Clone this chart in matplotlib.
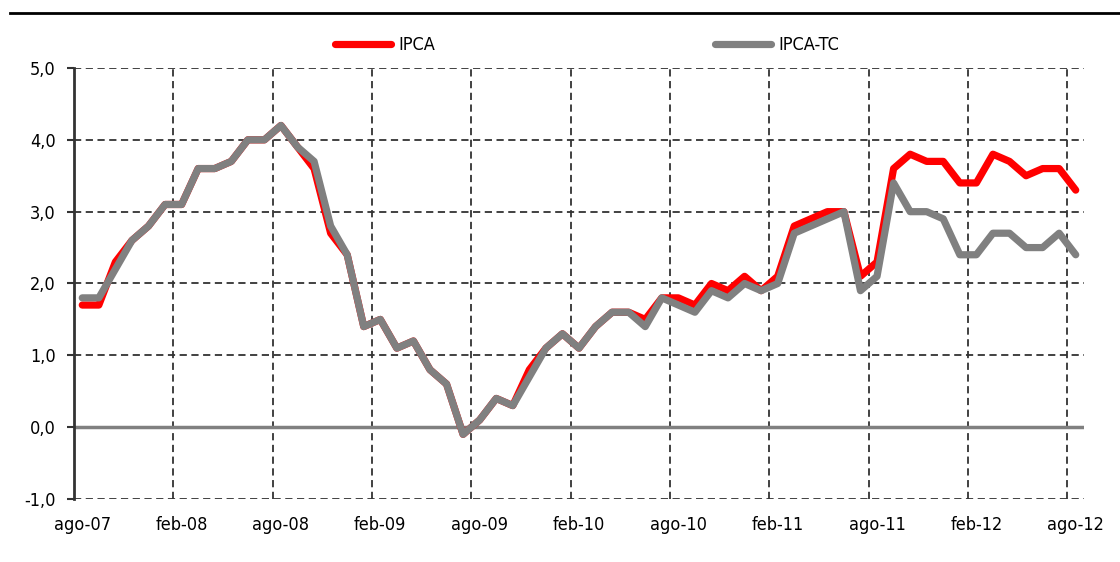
import matplotlib
matplotlib.use("Agg")
import matplotlib.pyplot as plt
from matplotlib.lines import Line2D
from matplotlib import font_manager

# Datos mensuales ago-07 .. ago-12
meses = ["ago-07", "sep-07", "oct-07", "nov-07", "dic-07", "ene-08", "feb-08", "mar-08", "abr-08", "may-08",
         "jun-08", "jul-08", "ago-08", "sep-08", "oct-08", "nov-08", "dic-08", "ene-09", "feb-09", "mar-09",
         "abr-09", "may-09", "jun-09", "jul-09", "ago-09", "sep-09", "oct-09", "nov-09", "dic-09", "ene-10",
         "feb-10", "mar-10", "abr-10", "may-10", "jun-10", "jul-10", "ago-10", "sep-10", "oct-10", "nov-10",
         "dic-10", "ene-11", "feb-11", "mar-11", "abr-11", "may-11", "jun-11", "jul-11", "ago-11", "sep-11",
         "oct-11", "nov-11", "dic-11", "ene-12", "feb-12", "mar-12", "abr-12", "may-12", "jun-12", "jul-12",
         "ago-12"]

ipca = [1.7, 1.7, 2.3, 2.6, 2.8, 3.1, 3.1, 3.6, 3.6, 3.7,
        4.0, 4.0, 4.2, 3.9, 3.6, 2.7, 2.4, 1.4, 1.5, 1.1,
        1.2, 0.8, 0.6, -0.1, 0.1, 0.4, 0.3, 0.8, 1.1, 1.3,
        1.1, 1.4, 1.6, 1.6, 1.5, 1.8, 1.8, 1.7, 2.0, 1.9,
        2.1, 1.9, 2.1, 2.8, 2.9, 3.0, 3.0, 2.1, 2.3, 3.6,
        3.8, 3.7, 3.7, 3.4, 3.4, 3.8, 3.7, 3.5, 3.6, 3.6,
        3.3]

ipca_tc = [1.8, 1.8, 2.2, 2.6, 2.8, 3.1, 3.1, 3.6, 3.6, 3.7,
           4.0, 4.0, 4.2, 3.9, 3.7, 2.8, 2.4, 1.4, 1.5, 1.1,
           1.2, 0.8, 0.6, -0.1, 0.1, 0.4, 0.3, 0.7, 1.1, 1.3,
           1.1, 1.4, 1.6, 1.6, 1.4, 1.8, 1.7, 1.6, 1.9, 1.8,
           2.0, 1.9, 2.0, 2.7, 2.8, 2.9, 3.0, 1.9, 2.1, 3.4,
           3.0, 3.0, 2.9, 2.4, 2.4, 2.7, 2.7, 2.5, 2.5, 2.7,
           2.4]

# fuente estrecha si existe
nombres = {f.name for f in font_manager.fontManager.ttflist}
condensadas = [f.fname for f in font_manager.fontManager.ttflist if 'Condensed' in f.fname and 'DejaVuSans' in f.fname
               and 'Bold' not in f.fname and 'Oblique' not in f.fname]
if 'Liberation Sans Narrow' in nombres:
    fuente = dict(family='Liberation Sans Narrow', size=13)
elif condensadas:
    fuente = dict(fname=condensadas[0], size=13)
else:
    fuente = dict(family='Liberation Sans', size=12)
fp = font_manager.FontProperties(**fuente)

fig = plt.figure(figsize=(11.2, 5.62), dpi=100)
ax = fig.add_axes([74 / 1120, 1 - 499 / 562, 1010 / 1120, 431 / 562])

x = list(range(len(meses)))

# rejilla discontinua
for yv in [-1, 1, 2, 3, 4, 5]:
    ax.axhline(yv, color='#333333', linestyle=(0, (4, 2.5)), linewidth=1.3, zorder=1)
for xv in range(6, len(meses), 6):
    ax.axvline(xv - 0.5, color='#333333', linestyle=(0, (4, 2.5)), linewidth=1.3, zorder=1)
ax.axhline(0, color='#808080', linewidth=2.5, zorder=1.5)

ax.plot(x, ipca, color='#ff0000', linewidth=5.2, solid_capstyle='round', solid_joinstyle='round',
        label='IPCA', zorder=3)
ax.plot(x, ipca_tc, color='#808080', linewidth=5.2, solid_capstyle='round', solid_joinstyle='round',
        label='IPCA-TC', zorder=4)

ax.set_xlim(-0.5, len(meses) - 0.5)
ax.set_ylim(-1, 5)

ax.set_xticks(x[::6])
ax.set_xticklabels(meses[::6], fontproperties=fp)
ax.set_yticks([-1, 0, 1, 2, 3, 4, 5])
ax.set_yticklabels([f"{v:.1f}".replace('.', ',') for v in [-1, 0, 1, 2, 3, 4, 5]], fontproperties=fp)
ax.tick_params(axis='x', length=0, pad=12, colors='black')
ax.tick_params(axis='y', length=5, width=1.5, pad=8, color='#333333')

for s in ['top', 'right', 'bottom']:
    ax.spines[s].set_visible(False)
ax.spines['left'].set_color('#333333')
ax.spines['left'].set_linewidth(2)

ax.legend(loc='center', bbox_to_anchor=(587 / 1120, 1 - 45 / 562), bbox_transform=fig.transFigure,
          ncol=2, frameon=False, prop=fp, handlelength=3.1, handletextpad=0.4,
          columnspacing=15.5)

# linea negra superior
fig.add_artist(Line2D([10 / 1120, 1.0], [1 - 13 / 562, 1 - 13 / 562], color='black', linewidth=2))

fig.savefig('out.png', dpi=100)
